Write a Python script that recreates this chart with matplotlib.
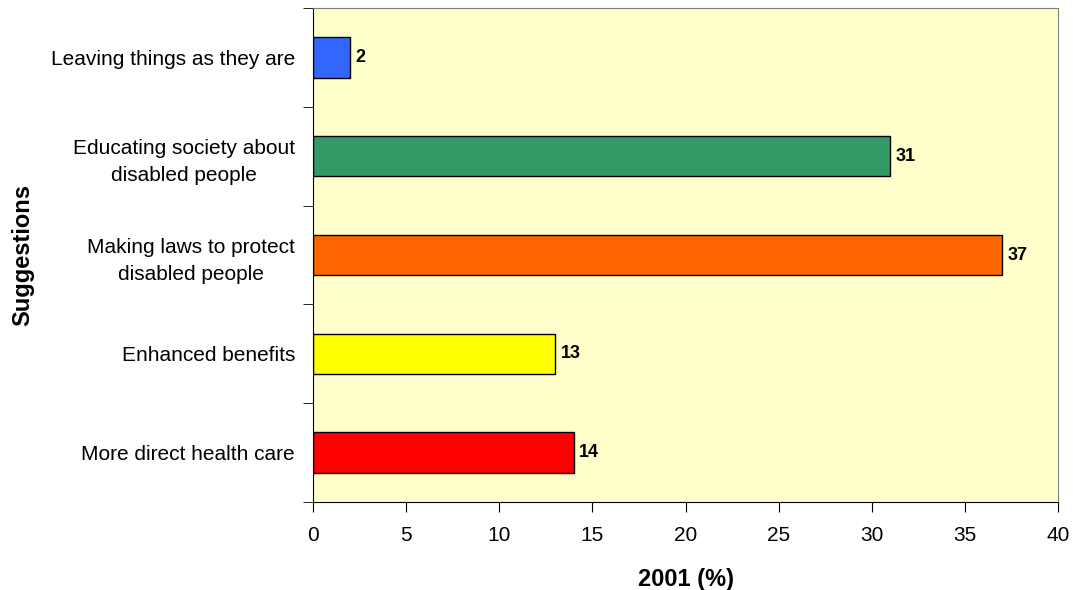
import matplotlib
matplotlib.use("Agg")
import matplotlib.pyplot as plt

plt.rcParams['font.family'] = ['Liberation Sans', 'DejaVu Sans']

categories = [
    "More direct health care",
    "Enhanced benefits",
    "Making laws to protect\ndisabled people",
    "Educating society about\ndisabled people",
    "Leaving things as they are",
]
values = [14, 13, 37, 31, 2]
colors = ["#FF0000", "#FFFF00", "#FF6600", "#339966", "#3366FF"]
xticks = [0, 5, 10, 15, 20, 25, 30, 35, 40]

fig = plt.figure(figsize=(10.73, 5.9), dpi=100)
ax = fig.add_axes([313 / 1073, 1 - 502 / 590, (1058 - 313) / 1073, (502 - 8) / 590])
ax.set_facecolor("#FFFFCC")

pos = list(range(len(categories)))
ax.barh(pos, values, height=0.41, color=colors, edgecolor="black", linewidth=1)
for p, v in zip(pos, values):
    ax.text(v + 0.3, p, str(v), va="center", ha="left", fontsize=13, fontweight="bold")

ax.set_xlim(0, 40)
ax.set_ylim(-0.5, len(categories) - 0.5)
ax.set_xticks(xticks)
ax.set_xticklabels([str(t) for t in xticks], fontsize=15)
ax.set_yticks(pos)
ax.set_yticklabels(categories, fontsize=15, linespacing=1.5, multialignment="center")
ax.tick_params(axis="y", length=0, pad=13)
ax.set_yticks([p - 0.5 for p in pos] + [len(categories) - 0.5], minor=True)
ax.tick_params(axis="y", which="minor", length=7, direction="out", color="black")
ax.tick_params(axis="x", length=7, direction="out", pad=10)

for side in ("top", "right"):
    ax.spines[side].set_color("#808080")
for side in ("left", "bottom"):
    ax.spines[side].set_color("black")

ax.set_xlabel("2001 (%)", fontsize=17, fontweight="bold", labelpad=17)
ax.set_ylabel("Suggestions", fontsize=17, fontweight="bold", labelpad=12)

fig.savefig("out.png", dpi=100)
